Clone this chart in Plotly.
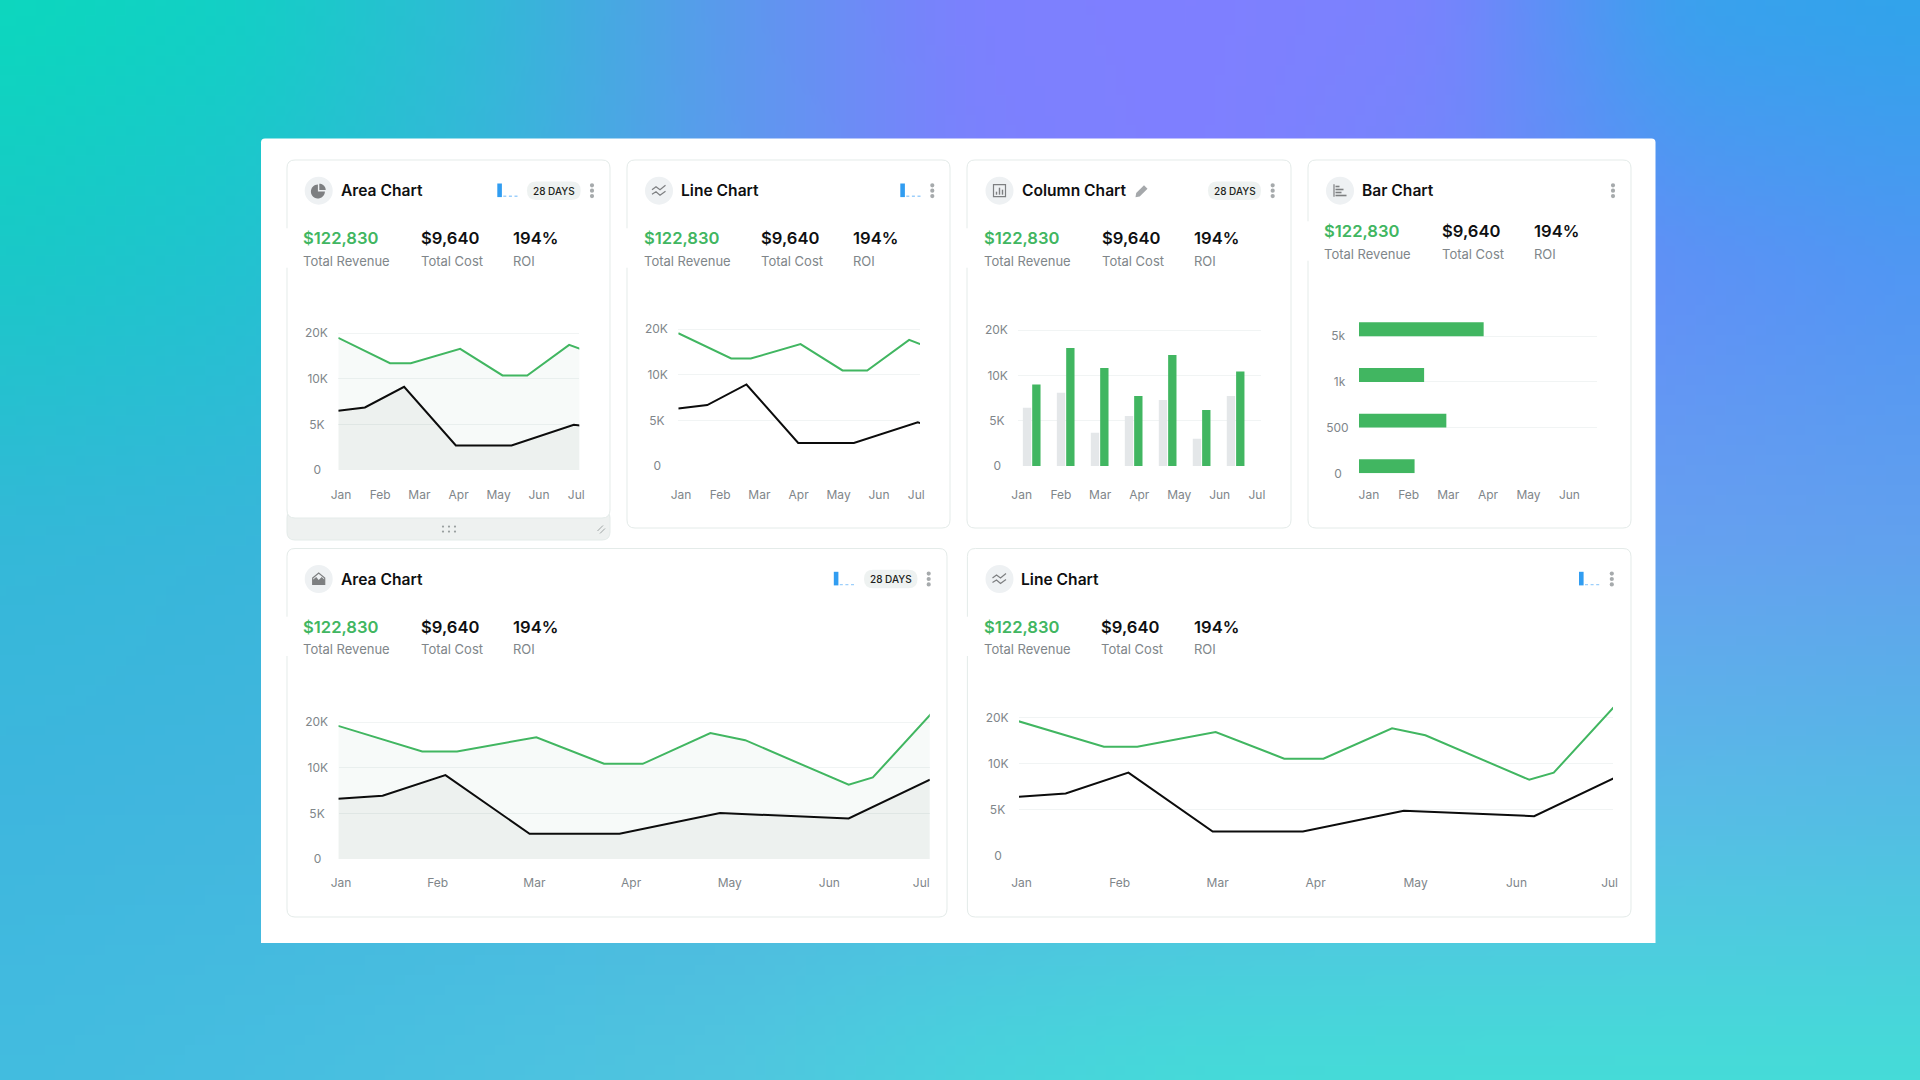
import base64
import struct
import zlib

import numpy as np
import plotly.graph_objects as go

W, H = 1920, 1080
FONT = "Inter"
GREEN = "#41b661"
BLACK = "#0c0c0c"
MUTED = "#80868a"
GRID = "#f1f4f4"
BORDER = "#e4ebe9"

MONTHS = ["Jan", "Feb", "Mar", "Apr", "May", "Jun", "Jul"]
MONTH_TICKS = [0, 1, 2, 3, 4.02, 5.05, 6]
TICK_KEYS = [0, 5000, 10000, 20000, 30000]
TICK_TEXT = ["0\u00a0\u00a0", "5K\u00a0", "10K", "20K"]

# Revenue and cost series: x is measured in months from January
area_small_rev_x = [-0.07, 1.25, 1.78, 3.04, 4.12, 4.75, 5.82, 6.1]
area_small_rev = [18980, 13430, 13430, 16570, 10730, 10730, 17450, 16570]
area_small_cost_x = [-0.07, 0.61, 1.61, 2.93, 4.35, 5.94, 6.1]
area_small_cost = [6500, 6860, 9120, 2700, 2700, 4960, 4890]

line_small_rev_x = [-0.07, 1.28, 1.78, 3.05, 4.12, 4.75, 5.82, 6.1]
line_small_rev = [19120, 13580, 13580, 16720, 10950, 10950, 17660, 16720]
line_small_cost_x = [-0.07, 0.67, 1.67, 2.99, 4.41, 6.04, 6.1]
line_small_cost = [6310, 6680, 8940, 2520, 2520, 4780, 4700]

column_x = [0.255, 1.122, 1.989, 2.856, 3.723, 4.59, 5.457]
column_cost = [6430, 8090, 3680, 5510, 7280, 3010, 7720]
column_rev = [9000, 16030, 11620, 7720, 14490, 6180, 10880]

bar_levels = [0, 1, 2, 3]
bar_level_text = ["0\u00a0\u00a0", "500", "1k\u00a0", "5k\u00a0"]
bar_lengths = [1.40, 2.20, 1.64, 3.14]

area_wide_rev_x = [-0.03, 0.84, 1.2, 2.02, 2.72, 3.12, 3.82, 4.18, 5.25, 5.5, 6.1]
area_wide_rev = [19200, 13580, 13580, 16700, 10880, 10880, 17600, 16060, 8140, 8940, 21800]
area_wide_cost_x = [-0.03, 0.43, 1.08, 1.95, 2.88, 3.92, 5.25, 6.09]
area_wide_cost = [6600, 6930, 9200, 2770, 2770, 5040, 4450, 8690]

line_wide_rev_x = [-0.03, 0.84, 1.18, 1.98, 2.68, 3.08, 3.78, 4.12, 5.18, 5.43, 6.04]
line_wide_rev = [19200, 13670, 13670, 16870, 11050, 11050, 17680, 16150, 8230, 9000, 22190]
line_wide_cost_x = [-0.03, 0.45, 1.09, 1.95, 2.87, 3.9, 5.23, 6.04]
line_wide_cost = [6370, 6740, 9000, 2590, 2590, 4840, 4260, 8380]

# Soft mesh backdrop, sampled on a coarse lattice (rows top to bottom)
BACKDROP = [
    ["#0bd8bd", "#12d0c5", "#30bad6", "#5a9aec", "#7c80fe", "#7f7fff", "#7a82fd", "#38a2ed", "#2fa4ea"],
    ["#1ac8c8", "#22c2d0", "#3ab6dc", "#5c9cee", "#7a82fc", "#7f7fff", "#7288fa", "#6090f6", "#5096f3"],
    ["#34b8d8", "#38b6da", "#40b4dc", "#48b0e2", "#54aae8", "#5ea4ec", "#64a0f0", "#66a0f0", "#62a0ee"],
    ["#3eb6de", "#42b6de", "#46b6df", "#4cb4e0", "#52b6e2", "#56b8e4", "#58bae6", "#58bce6", "#54bce4"],
    ["#42bcdf", "#46bee0", "#4bc2e0", "#50c6df", "#48d4dc", "#44dcd8", "#44ddd7", "#44ddd7", "#44ddd7"],
]


def backdrop_uri():
    """Upsample the lattice into a small PNG and return it as a data URI."""
    rgb = np.array([[[int(c[i:i + 2], 16) for i in (1, 3, 5)] for c in row] for row in BACKDROP], float)
    h, w = 108, 192
    ys = np.linspace(0, rgb.shape[0] - 1, h)
    xs = np.linspace(0, rgb.shape[1] - 1, w)
    across = np.stack([np.stack([np.interp(xs, range(rgb.shape[1]), rgb[r, :, ch]) for ch in range(3)], -1)
                       for r in range(rgb.shape[0])])
    img = np.stack([np.stack([np.interp(ys, range(rgb.shape[0]), across[:, col, ch]) for ch in range(3)], -1)
                    for col in range(w)], 1)
    for _ in range(3):
        for axis in (0, 1):
            pad = [(0, 0)] * 3
            pad[axis] = (3, 3)
            padded = np.pad(img, pad, mode="edge")
            kernel = np.ones(7) / 7
            img = np.apply_along_axis(lambda v: np.convolve(v, kernel, "valid"), axis, padded)
    raw = b"".join(b"\x00" + img[r].round().astype(np.uint8).tobytes() for r in range(h))

    def chunk(tag, data):
        body = tag + data
        return struct.pack(">I", len(data)) + body + struct.pack(">I", zlib.crc32(body) & 0xFFFFFFFF)

    png = (b"\x89PNG\r\n\x1a\n" + chunk(b"IHDR", struct.pack(">IIBBBBB", w, h, 8, 2, 0, 0, 0))
           + chunk(b"IDAT", zlib.compress(raw, 9)) + chunk(b"IEND", b""))
    return "data:image/png;base64," + base64.b64encode(png).decode()


def px(x, y):
    return f"{x / W:.6f},{1 - y / H:.6f}"


shapes, notes = [], []


def path(d, fill="rgba(0,0,0,0)", line=None, width=1, layer="below", dash=None):
    ln = dict(color=line or "rgba(0,0,0,0)", width=width if line else 0)
    if dash:
        ln["dash"] = dash
    shapes.append(dict(type="path", xref="paper", yref="paper", path=d, fillcolor=fill, line=ln, layer=layer))


def poly(points, close=True, **kw):
    d = "M" + " L".join(px(x, y) for x, y in points) + (" Z" if close else "")
    path(d, **kw)


def rrect(x0, y0, x1, y1, r, rb=None, **kw):
    rb = r if rb is None else rb
    d = (f"M{px(x0 + r, y0)} L{px(x1 - r, y0)} Q{px(x1, y0)} {px(x1, y0 + r)} "
         f"L{px(x1, y1 - rb)} Q{px(x1, y1)} {px(x1 - rb, y1)} L{px(x0 + rb, y1)} "
         f"Q{px(x0, y1)} {px(x0, y1 - rb)} L{px(x0, y0 + r)} Q{px(x0, y0)} {px(x0 + r, y0)} Z")
    path(d, **kw)


def disc(cx, cy, r, fill):
    shapes.append(dict(type="circle", xref="paper", yref="paper", x0=(cx - r) / W, x1=(cx + r) / W,
                       y0=1 - (cy + r) / H, y1=1 - (cy - r) / H, fillcolor=fill,
                       line=dict(width=0), layer="below"))


def sector(cx, cy, r, a0, a1, **kw):
    angs = np.radians(np.linspace(a0, a1, 24))
    pts = [(cx, cy)] + [(cx + r * np.cos(a), cy - r * np.sin(a)) for a in angs]
    poly(pts, **kw)


def text(x, y, s, size, color, weight=400, anchor="left"):
    notes.append(dict(xref="paper", yref="paper", x=x / W, y=1 - y / H, text=s, showarrow=False,
                      xanchor=anchor, yanchor="middle", borderpad=0, borderwidth=0,
                      font=dict(family=FONT, size=size, color=color, weight=weight)))


def icon(kind, cx, cy):
    disc(cx, cy, 14, "#eef1f3")
    ink = "#7d7f81"
    if kind == "pie":
        sector(cx - 0.8, cy + 0.8, 7, 90, 360, fill=ink)
        sector(cx + 0.6, cy - 0.6, 6.4, 0, 90, fill=ink)
    elif kind == "line":
        poly([(cx - 7, cy - 1), (cx - 3, cy - 4), (cx + 1, cy - 1), (cx + 6.5, cy - 5.5)],
             close=False, line=ink, width=1.2)
        poly([(cx - 7, cy + 3.5), (cx - 3, cy + 1), (cx + 1, cy + 4.5), (cx + 6.5, cy + 0.5)],
             close=False, line=ink, width=1.2)
    elif kind == "column":
        poly([(cx - 6, cy - 6), (cx + 6, cy - 6), (cx + 6, cy + 6), (cx - 6, cy + 6)], line=ink, width=1.2)
        for dx, top in ((-3, 1), (0, -3), (3, -1)):
            poly([(cx + dx - 0.7, cy + top), (cx + dx + 0.7, cy + top), (cx + dx + 0.7, cy + 4),
                  (cx + dx - 0.7, cy + 4)], fill=ink)
    elif kind == "bar":
        poly([(cx - 6, cy - 6.5), (cx - 6, cy + 6)], close=False, line=ink, width=1.2)
        for dy, length in ((-5, 4), (-2, 8), (1, 6), (4, 11)):
            poly([(cx - 4.5, cy + dy), (cx - 4.5 + length, cy + dy), (cx - 4.5 + length, cy + dy + 1.6),
                  (cx - 4.5, cy + dy + 1.6)], fill=ink)
    elif kind == "area":
        poly([(cx - 6, cy - 1), (cx, cy - 6), (cx + 6, cy - 1), (cx + 6, cy + 5.5), (cx - 6, cy + 5.5)],
             line=ink, width=1.2)
        poly([(cx - 6, cy + 1), (cx - 2.5, cy - 2), (cx, cy + 1), (cx + 3, cy - 2), (cx + 6, cy + 1),
              (cx + 6, cy + 5.5), (cx - 6, cy + 5.5)], fill=ink)


def dots(cx, cy):
    for dy in (-5.4, 0, 5.4):
        disc(cx, cy + dy, 2.1, "#a6aaac")


def spark(x0, cy):
    poly([(x0, cy - 7.2), (x0 + 4.6, cy - 7.2), (x0 + 4.6, cy + 6.4), (x0, cy + 6.4)], fill="#319df1")
    poly([(x0 + 6, cy + 5.6), (x0 + 21, cy + 5.6)], close=False, line="#9dcffb", width=1.4, dash="3px,2.6px")


def pill(x0, x1, cy):
    rrect(x0, cy - 9.2, x1, cy + 9.2, 9.2, fill="#eef2f1")
    text((x0 + x1) / 2, cy, "28 DAYS", 10, "#1d1f20", 500, anchor="center")


def card(x0, y0, x1, y1, kind, title, cy_head, cx_icon, title_x, metric_xs, metric_y, label_y):
    rrect(x0, y0, x1, y1, 8, fill="#ffffff", line=BORDER, width=1)
    # Metric block sits slightly over the card edge
    poly([(x0 - 1.5, metric_y - 10), (x0 + 2, metric_y - 10), (x0 + 2, label_y + 7), (x0 - 1.5, label_y + 7)],
         fill="#ffffff")
    icon(kind, cx_icon, cy_head)
    text(title_x, cy_head, title, 15.6, "#0f1011", 600)
    text(metric_xs[0], metric_y, "$122,830", 16.6, GREEN, 600)
    text(metric_xs[1], metric_y, "$9,640", 16.6, "#0f1011", 600)
    text(metric_xs[2], metric_y, "194%", 16.6, "#0f1011", 600)
    text(metric_xs[0], label_y, "Total Revenue", 13, MUTED)
    text(metric_xs[1], label_y, "Total Cost", 13, MUTED)
    text(metric_xs[2], label_y, "ROI", 13, MUTED)


layout = dict(
    width=W, height=H, margin=dict(l=0, r=0, t=0, b=0, pad=0), autosize=False, showlegend=False,
    paper_bgcolor="rgba(0,0,0,0)", plot_bgcolor="rgba(0,0,0,0)",
    font=dict(family=FONT, size=12, color=MUTED), barmode="group",
)
fig = go.Figure()


def axes(n, left, right, zero, step, jan, month, label_y, top_units=3.55,
         yticks=None, ytext=None, xticks=None):
    """Place subplot n from pixel extents; y is spaced one band per tick."""
    suffix = "" if n == 1 else str(n)
    xticks = MONTH_TICKS if xticks is None else xticks
    layout["xaxis" + suffix] = dict(
        domain=[left / W, right / W], range=[(left - jan) / month, (right - jan) / month], automargin=False,
        tickmode="array", tickvals=xticks, ticktext=MONTHS[:len(xticks)], showgrid=False, zeroline=False,
        showline=False, ticks="outside", ticklen=label_y - zero - 12.5, tickcolor="rgba(0,0,0,0)",
        tickfont=dict(family=FONT, size=12, color=MUTED), anchor="y" + suffix, fixedrange=True,
    )
    top = zero - top_units * step
    layout["yaxis" + suffix] = dict(
        domain=[1 - zero / H, 1 - top / H], range=[0, top_units], automargin=False,
        tickmode="array", tickvals=yticks or [0, 1, 2, 3], ticktext=ytext or TICK_TEXT, showgrid=True,
        gridcolor=GRID, gridwidth=1, zeroline=False, showline=False, ticks="outside", ticklen=7,
        tickcolor="rgba(0,0,0,0)", tickfont=dict(family=FONT, size=12, color=MUTED),
        anchor="x" + suffix, fixedrange=True,
    )
    return "x" + suffix, "y" + suffix


def band(values):
    return np.interp(values, TICK_KEYS, range(len(TICK_KEYS)))


def line_pair(xa, ya, rev_x, rev, cost_x, cost, filled):
    for xs, ys, color, tint in (
        (rev_x, rev, GREEN, "rgba(45,130,90,0.04)"),
        (cost_x, cost, BLACK, "rgba(30,40,30,0.045)"),
    ):
        fig.add_trace(go.Scatter(x=xs, y=band(ys), xaxis=xa, yaxis=ya, mode="lines",
                                 line=dict(color=color, width=2),
                                 fill="tozeroy" if filled else None,
                                 fillcolor=tint if filled else None,
                                 hoverinfo="skip"))


# Page furniture
rrect(261, 138.5, 1655.5, 943, 4, rb=0, fill="#ffffff")

# Area chart card with its drag footer
rrect(287, 510, 610, 540, 8, fill="#eef1f0", line=BORDER, width=1)
card(287, 160, 610, 518, "pie", "Area Chart", 190.7, 318.7, 341, (303.3, 420.7, 513), 238.3, 260.7)
for fx in (443, 449, 455):
    for fy in (526.6, 531.6):
        disc(fx, fy, 1.1, "#9aa0a0")
poly([(597.5, 531), (603, 525.5)], close=False, line="#9fa5a5", width=1)
poly([(600, 533.5), (605, 528.5)], close=False, line="#9fa5a5", width=1)
spark(497.3, 190.7)
pill(527, 580.7, 190.7)
dots(592, 190.7)
xa, ya = axes(1, 338.3, 579.3, 470, 45.6, 341, 39.2, 495.7)
line_pair(xa, ya, area_small_rev_x, area_small_rev, area_small_cost_x, area_small_cost, True)

# Line chart card
card(627, 160, 950, 528, "line", "Line Chart", 190.7, 659, 681, (643.5, 761, 853.3), 238.3, 260.7)
spark(900.3, 190.7)
dots(932.3, 190.7)
xa, ya = axes(2, 678.3, 920, 466, 45.6, 681, 39.2, 495.7)
line_pair(xa, ya, line_small_rev_x, line_small_rev, line_small_cost_x, line_small_cost, False)

# Column chart card
card(967, 160, 1291, 528, "column", "Column Chart", 190.7, 999.5, 1021.7, (984, 1101.5, 1194), 238.3, 260.7)
poly([(1136.2, 193), (1144, 185.2), (1147.5, 188.7), (1139.7, 196.5), (1135.5, 197.2)], fill="#a5a8ab")
pill(1208, 1261, 190.7)
dots(1272.7, 190.7)
xa, ya = axes(3, 1018.3, 1260.7, 466, 45.3, 1021.7, 39.2, 495.7)
for vals, color in ((column_cost, "#e4e7e9"), (column_rev, GREEN)):
    fig.add_trace(go.Bar(x=column_x, y=band(vals), xaxis=xa, yaxis=ya, marker=dict(color=color, line=dict(width=0)),
                         hoverinfo="skip"))
layout["bargap"] = 0.45
layout["bargroupgap"] = 0.107

# Bar chart card
card(1308, 160, 1631, 528, "bar", "Bar Chart", 190.7, 1340, 1361.7, (1324.3, 1441.7, 1534), 231.3, 253.7)
dots(1613, 190.7)
xa, ya = axes(4, 1359, 1597, 473.3, 45.7, 1369, 39.7, 495.7, yticks=bar_levels, ytext=bar_level_text,
              xticks=MONTH_TICKS[:6])
layout["xaxis4"]["range"] = [0, (1597 - 1359) / 39.7]
layout["xaxis4"]["tickvals"] = [0.25 + t for t in MONTH_TICKS[:6]]
fig.add_trace(go.Bar(y=bar_levels, x=bar_lengths, orientation="h", xaxis=xa, yaxis=ya, width=0.305, offset=0,
                     marker=dict(color=GREEN, line=dict(width=0)), hoverinfo="skip"))

# Wide area chart card
card(287, 548.5, 947, 917, "area", "Area Chart", 579, 318.7, 341, (303.3, 420.7, 513), 626.7, 649)
spark(833.8, 579)
pill(864, 917.5, 579)
dots(928.7, 579)
xa, ya = axes(5, 338.5, 929.8, 859, 45.6, 341, 96.7, 884)
line_pair(xa, ya, area_wide_rev_x, area_wide_rev, area_wide_cost_x, area_wide_cost, True)

# Wide line chart card
card(967.4, 548.5, 1631, 917, "line", "Line Chart", 579, 999.5, 1021.3, (983.8, 1101, 1194), 626.7, 649)
spark(1579, 579)
dots(1611.8, 579)
xa, ya = axes(6, 1019, 1613, 855.3, 45.9, 1021.6, 98, 884)
line_pair(xa, ya, line_wide_rev_x, line_wide_rev, line_wide_cost_x, line_wide_cost, False)

layout["shapes"] = shapes
layout["annotations"] = notes
layout["images"] = [dict(source=backdrop_uri(), xref="paper", yref="paper", x=0, y=1, sizex=1, sizey=1,
                         xanchor="left", yanchor="top", sizing="stretch", layer="below")]
fig.update_layout(**layout)
fig.write_html("out.html", config=dict(displayModeBar=False), default_width=f"{W}px", default_height=f"{H}px")
